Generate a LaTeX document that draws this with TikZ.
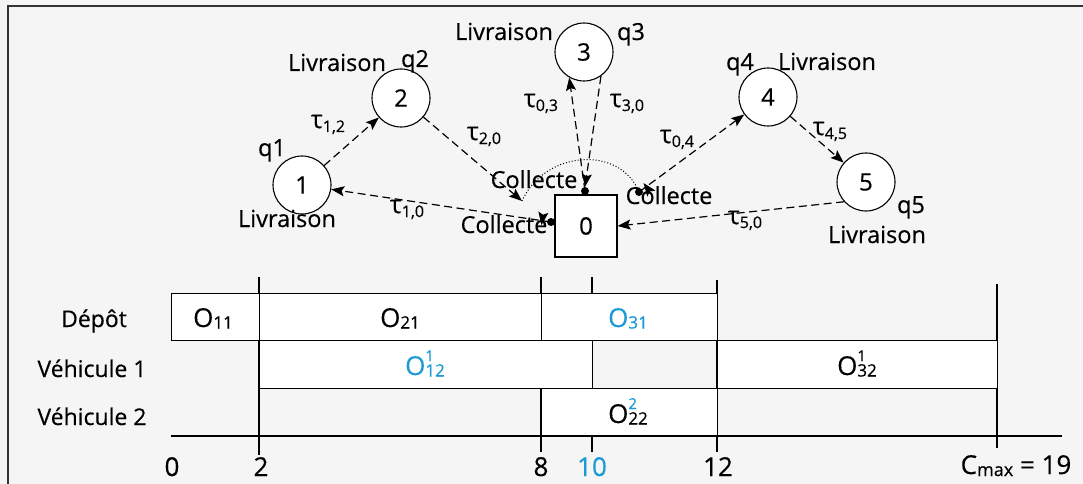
\documentclass[tikz,border=0pt]{standalone}
\usepackage{fontspec}
\setmainfont{Open Sans}[FakeBold=0.4]
\usetikzlibrary{arrows.meta,decorations.markings}
\definecolor{bgc}{HTML}{F5F5F5}
\definecolor{ablue}{HTML}{1B9AD6}
\newcommand\fs[1]{\fontsize{#1}{#1}\selectfont}
\newcommand\taul[1]{{\fs{25}τ}\raisebox{-4pt}{\fs{16}#1}}
\newcommand\Ob[1]{O\raisebox{-1.5pt}{\fs{17}#1}}
\newcommand\Obs[2]{O\makebox[0pt][l]{\raisebox{14pt}{\fs{15}#1}}\raisebox{-1.5pt}{\fs{17}#2}}
\begin{document}
\begin{tikzpicture}[x=1pt,y=-1pt,
  edge/.style={draw, line width=1.2pt, dash pattern=on 8pt off 4.5pt,
    -{Stealth[length=13pt,width=10pt,inset=2.5pt]}},
  cnode/.style={circle, draw, fill=white, line width=1.1pt, minimum size=58pt,
    inner sep=0pt, font=\fs{24}},
  lbl/.style={inner sep=0pt, anchor=base, font=\fs{23.5}},
  dotn/.style={circle, fill=black, inner sep=0pt, minimum size=8pt},
  barmark/.style={postaction={decorate, decoration={markings,
    mark=at position 9pt with {\draw[solid, line width=1.1pt] (0,-4.5pt) -- (0,4.5pt);}}}},
  gbox/.style={draw, fill=white, line width=1pt},
  gline/.style={line width=1.2pt},
  rowlbl/.style={inner sep=0pt, anchor=base, font=\fs{23}},
  glbl/.style={inner sep=0pt, anchor=base, font=\fs{26}},
  axlbl/.style={inner sep=0pt, anchor=base, font=\fs{26}}]
\useasboundingbox (0,0) rectangle (1083,484);
\fill[bgc] (0,0) rectangle (1083,484);
\draw[line width=2.5pt, black!80] (8,484) -- (8,6) -- (1083,6);

% ---------- graph ----------
\node[cnode] (n1) at (302,185) {1};
\node[cnode] (n2) at (401,98) {2};
\node[cnode] (n3) at (584,52) {3};
\node[cnode] (n4) at (768,97) {4};
\node[cnode] (n5) at (866,182) {5};
\node[draw, fill=white, line width=1.1pt, minimum size=62pt, inner sep=0pt, font=\fs{24}] (n0) at (586,226) {0};

\node[dotn] (dl) at (551,222) {};
\node[dotn] (dt) at (585,191) {};
\node[dotn] (dr) at (639,192) {};
\coordinate (dc) at (522,201);

\draw[dotted, line width=1pt] (dc) .. controls (545,150) and (620,145) .. (dr.center);

\draw[edge] (n1) -- (n2);
\draw[edge] (n2) -- (dc);
\draw[edge, barmark] (dl.center) -- (n1);
\draw[edge] (dt.center) -- (n3.240);
\draw[edge] (n3.305) -- (dt.north);
\draw[edge, barmark] (dr.center) -- (n4);
\draw[edge] (n4) -- (n5);
\draw[edge] (n5.222) -- (n0.east);

\node[lbl] (t12) at (328,128) {\taul{1,2}};
\node[lbl] (t20) at (484,140) {\taul{2,0}};
\node[lbl] (t10) at (407,213) {\taul{1,0}};
\node[lbl] (t03) at (541,107) {\taul{0,3}};
\node[lbl] (t30) at (627,107) {\taul{3,0}};
\node[lbl] (t04) at (677,143) {\taul{0,4}};
\node[lbl] (t45) at (830,135) {\taul{4,5}};
\node[lbl] (t50) at (745,224) {\taul{5,0}};

\node[lbl] (q1) at (272,156) {q1};
\node[lbl] (l1) at (287,227) {Livraison};
\node[lbl] (l2) at (337,71) {Livraison};
\node[lbl] (q2) at (415,67) {q2};
\node[lbl] (l3) at (504,40) {Livraison};
\node[lbl] (q3) at (631,40) {q3};
\node[lbl] (q4) at (740,70) {q4};
\node[lbl] (l4) at (827,70) {Livraison};
\node[lbl] (q5) at (911,213) {q5};
\node[lbl] (l5) at (877,243) {Livraison};
\node[lbl] (cl) at (504,233) {Collecte};
\node[lbl] (cu) at (534,188) {Collecte};
\node[lbl] (cr) at (669,204) {Collecte};

% ---------- Gantt ----------
\draw[gline] (259,277) -- (259,455);
\draw[gline] (541,277) -- (541,452);
\draw[gline] (592,277) -- (592,452);
\draw[gline] (717,280) -- (717,452);
\draw[gline] (997,284) -- (997,448);

\draw[gbox] (171,293) rectangle (259,340);
\draw[gbox] (259,293) rectangle (541,340);
\draw[gbox] (541,293) rectangle (717,340);
\draw[gbox] (259,340) rectangle (592,388);
\draw[gbox] (717,340) rectangle (997,388);
\draw[gbox] (541,388) rectangle (717,436);

\draw[gline] (171,436) -- (1062,436);

\node[rowlbl] (r0) at (94,327) {Dépôt};
\node[rowlbl] (r1) at (92,377) {Véhicule 1};
\node[rowlbl] (r2) at (92,425) {Véhicule 2};

\node[glbl] (o11) at (213,327) {\Ob{11}};
\node[glbl] (o21) at (400,327) {\Ob{21}};
\node[glbl, text=ablue] (o31) at (628,327) {\Ob{31}};
\node[glbl, text=ablue] (o12) at (425,375) {\Obs{1}{12}};
\node[glbl] (o32) at (857,375) {\Obs{1}{32}};
\node[glbl] (o22) at (628,423) {\Obs{\color{ablue}2}{22}};

\node[axlbl] (a0) at (172,476) {0};
\node[axlbl] (a2) at (261,476) {2};
\node[axlbl] (a8) at (541,476) {8};
\node[axlbl, text=ablue] (a10) at (592,476) {10};
\node[axlbl] (a12) at (718,476) {12};
\node[axlbl] (a19) at (1016,474) {C\raisebox{-2pt}{\fs{18}max} = 19};
\end{tikzpicture}
\end{document}
